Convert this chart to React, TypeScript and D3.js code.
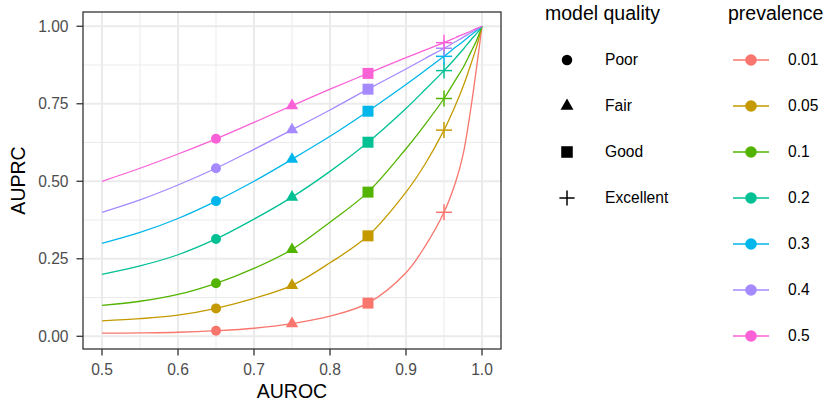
import React from "react";
import * as d3 from "d3";

// ---- data ----
const aurocGrid = [0.5, 0.55, 0.6, 0.65, 0.7, 0.75, 0.8, 0.85, 0.9, 0.925, 0.95, 0.965, 0.975, 0.985, 0.993, 1.0];
const prev001 = [0.01, 0.011, 0.013, 0.018, 0.026, 0.041, 0.065, 0.107, 0.205, 0.29, 0.40, 0.495, 0.585, 0.73, 0.87, 1.0];
const prev005 = [0.05, 0.057, 0.068, 0.09, 0.122, 0.164, 0.237, 0.324, 0.465, 0.555, 0.665, 0.745, 0.805, 0.875, 0.935, 1.0];
const prev01 = [0.10, 0.113, 0.135, 0.171, 0.219, 0.28, 0.368, 0.465, 0.605, 0.683, 0.767, 0.826, 0.866, 0.915, 0.955, 1.0];
const prev02 = [0.20, 0.227, 0.263, 0.314, 0.378, 0.449, 0.532, 0.626, 0.735, 0.795, 0.857, 0.897, 0.925, 0.955, 0.977, 1.0];
const prev03 = [0.30, 0.335, 0.38, 0.436, 0.50, 0.571, 0.645, 0.726, 0.812, 0.857, 0.903, 0.932, 0.951, 0.971, 0.986, 1.0];
const prev04 = [0.40, 0.44, 0.488, 0.542, 0.603, 0.666, 0.73, 0.797, 0.862, 0.896, 0.929, 0.95, 0.964, 0.979, 0.99, 1.0];
const prev05 = [0.50, 0.542, 0.588, 0.637, 0.69, 0.744, 0.797, 0.848, 0.899, 0.923, 0.947, 0.963, 0.974, 0.984, 0.993, 1.0];

const prevalenceLabels = ["0.01", "0.05", "0.1", "0.2", "0.3", "0.4", "0.5"];
const prevalenceSeries = [prev001, prev005, prev01, prev02, prev03, prev04, prev05];
const prevalenceColors = ["#F8766D", "#C49A00", "#53B400", "#00C094", "#00B6EB", "#A58AFF", "#FB61D7"];

const qualityLabels = ["Poor", "Fair", "Good", "Excellent"];
const qualityAuroc = [0.65, 0.75, 0.85, 0.95];
const qualityShapes = ["circle", "triangle", "square", "plus"];

const xTicks = [0.5, 0.6, 0.7, 0.8, 0.9, 1.0];
const xMinor = [0.55, 0.65, 0.75, 0.85, 0.95];
const yTicks = [0, 0.25, 0.5, 0.75, 1.0];
const yMinor = [0.125, 0.375, 0.625, 0.875];

// ---- layout ----
const W = 833, H = 403;
const P = { left: 83, right: 501, top: 12, bottom: 349 };
const FONT = "Liberation Sans, Arial, Helvetica, sans-serif";

function Marker({ shape, x, y, color, scale = 1 }: { shape: string; x: number; y: number; color: string; scale?: number }) {
  if (shape === "circle") return <circle cx={x} cy={y} r={5 * scale} fill={color} />;
  if (shape === "square") {
    const s = 11 * scale;
    return <rect x={x - s / 2} y={y - s / 2} width={s} height={s} fill={color} />;
  }
  if (shape === "triangle") {
    const r = 7.1 * scale, xc = r * 0.866, yc = r / 2;
    return <path d={`M${x},${y - r}L${x + xc},${y + yc}L${x - xc},${y + yc}Z`} fill={color} />;
  }
  const h = 8 * scale;
  return (
    <g stroke={color} strokeWidth={1.5}>
      <line x1={x - h} x2={x + h} y1={y} y2={y} />
      <line x1={x} x2={x} y1={y - h} y2={y + h} />
    </g>
  );
}

export default function App() {
  const x = d3.scaleLinear().domain([0.475, 1.025]).range([P.left, P.right]);
  const y = d3.scaleLinear().domain([-0.041, 1.046]).range([P.bottom, P.top]);
  const line = d3.line<number>()
    .x((_, i) => x(aurocGrid[i]))
    .y((d) => y(d))
    .curve(d3.curveCatmullRom.alpha(0.5));

  return (
    <svg width={W} height={H} style={{ position: "absolute", left: 0, top: 0 }} fontFamily={FONT}>
      <rect x={0} y={0} width={W} height={H} fill="#fff" />
      {/* grid */}
      <g>
        {xMinor.map((v) => (
          <line key={"xm" + v} x1={x(v)} x2={x(v)} y1={P.top} y2={P.bottom} stroke="#EBEBEB" strokeWidth={1} />
        ))}
        {yMinor.map((v) => (
          <line key={"ym" + v} y1={y(v)} y2={y(v)} x1={P.left} x2={P.right} stroke="#EBEBEB" strokeWidth={1} />
        ))}
        {xTicks.map((v) => (
          <line key={"xg" + v} x1={x(v)} x2={x(v)} y1={P.top} y2={P.bottom} stroke="#EBEBEB" strokeWidth={2} />
        ))}
        {yTicks.map((v) => (
          <line key={"yg" + v} y1={y(v)} y2={y(v)} x1={P.left} x2={P.right} stroke="#EBEBEB" strokeWidth={2} />
        ))}
      </g>
      {/* curves */}
      {prevalenceSeries.map((s, i) => (
        <path key={"c" + i} d={line(s) || ""} fill="none" stroke={prevalenceColors[i]} strokeWidth={1.3} />
      ))}
      {/* markers */}
      {prevalenceSeries.map((s, i) =>
        qualityAuroc.map((a, j) => {
          const k = aurocGrid.indexOf(a);
          return <Marker key={`m${i}-${j}`} shape={qualityShapes[j]} x={x(a)} y={y(s[k])} color={prevalenceColors[i]} />;
        })
      )}
      {/* panel border */}
      <rect x={P.left} y={P.top} width={P.right - P.left} height={P.bottom - P.top} fill="none" stroke="#333333" strokeWidth={1.3} />
      {/* axes */}
      {xTicks.map((v) => (
        <g key={"xt" + v}>
          <line x1={x(v)} x2={x(v)} y1={P.bottom} y2={P.bottom + 6.5} stroke="#333333" strokeWidth={1.3} />
          <text x={x(v)} y={P.bottom + 26} textAnchor="middle" fontSize={15.6} fill="#4D4D4D">{d3.format(".1f")(v)}</text>
        </g>
      ))}
      {yTicks.map((v) => (
        <g key={"yt" + v}>
          <line x1={P.left - 6.5} x2={P.left} y1={y(v)} y2={y(v)} stroke="#333333" strokeWidth={1.3} />
          <text x={P.left - 14.5} y={y(v)} dy="0.35em" textAnchor="end" fontSize={15.6} fill="#4D4D4D">{d3.format(".2f")(v)}</text>
        </g>
      ))}
      <text x={(P.left + P.right) / 2} y={398} textAnchor="middle" fontSize={19.5} fill="#000">AUROC</text>
      <text transform={`translate(25,${(P.top + P.bottom) / 2}) rotate(-90)`} textAnchor="middle" fontSize={19.5} fill="#000">AUPRC</text>

      {/* legend: model quality */}
      <text x={545} y={20} fontSize={19.5} fill="#000">model quality</text>
      {qualityLabels.map((lab, j) => {
        const cy = 60 + j * 46;
        return (
          <g key={"ql" + j}>
            <Marker shape={qualityShapes[j]} x={567} y={cy} color="#000" scale={j === 3 ? 0.95 : 1.05} />
            <text x={605} y={cy} dy="0.35em" fontSize={15.6} fill="#000">{lab}</text>
          </g>
        );
      })}

      {/* legend: prevalence */}
      <text x={728} y={20} fontSize={19.5} fill="#000">prevalence</text>
      {prevalenceLabels.map((lab, i) => {
        const cy = 60 + i * 46;
        return (
          <g key={"pl" + i}>
            <line x1={733} x2={769} y1={cy} y2={cy} stroke={prevalenceColors[i]} strokeWidth={1.3} />
            <circle cx={751} cy={cy} r={5.8} fill={prevalenceColors[i]} />
            <text x={788} y={cy} dy="0.35em" fontSize={15.6} fill="#000">{lab}</text>
          </g>
        );
      })}
    </svg>
  );
}
